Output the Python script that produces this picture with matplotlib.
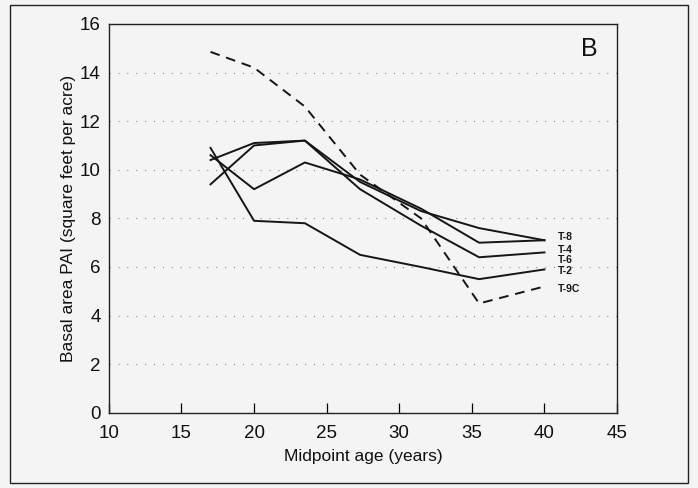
import matplotlib.pyplot as plt
from matplotlib.patches import Rectangle

plt.rcParams['font.family'] = ['Liberation Sans', 'DejaVu Sans']

# midpoint ages of the measurement periods
age = [17, 20, 23.5, 27.3, 31.5, 35.5, 40]

# basal area PAI per stand
t8 = [10.4, 11.1, 11.2, 9.5, 8.3, 7.6, 7.1]
t4 = [10.6, 9.2, 10.3, 9.6, 8.4, 7.0, 7.1]
t6 = [9.4, 11.0, 11.2, 9.2, 7.7, 6.4, 6.6]
t2 = [10.9, 7.9, 7.8, 6.5, 6.0, 5.5, 5.9]
t9c = [14.85, 14.2, 12.6, 9.8, 8.0, 4.5, 5.2]

labels = ['T-8', 'T-4', 'T-6', 'T-2', 'T-9C']
label_y = [7.25, 6.7, 6.3, 5.85, 5.1]

bg = '#f4f4f4'
fig = plt.figure(figsize=(6.98, 4.88), dpi=100, facecolor=bg)
ax = fig.add_axes([0.156, 0.154, 0.728, 0.797], facecolor=bg)

# outer frame around the whole figure
fig.patches.append(Rectangle((10 / 698, 5 / 488), 678 / 698, 478 / 488,
                             transform=fig.transFigure, fill=False,
                             edgecolor='#222222', linewidth=1.0))

# faint dotted grid, like the scanned original
for yv in range(2, 16, 2):
    ax.axhline(yv, color='#888888', linewidth=0.8,
               linestyle=(0, (1, 7)), zorder=0)

lw = 1.4
for series in [t8, t4, t6, t2]:
    ax.plot(age, series, color='#151515', linewidth=lw)
ax.plot(age, t9c, color='#151515', linewidth=lw, linestyle=(0, (5, 3.5)))

for lab, yv in zip(labels, label_y):
    ax.text(40.9, yv, lab, fontsize=7.5, fontweight='bold',
            va='center', ha='left', color='#151515')

ax.text(0.945, 0.935, 'B', transform=ax.transAxes, fontsize=18,
        ha='center', va='center', color='#111111')

ax.set_xlim(10, 45)
ax.set_ylim(0, 16)
ax.set_xticks(range(10, 46, 5))
ax.set_yticks(range(0, 17, 2))
ax.tick_params(axis='x', direction='in', length=7, width=0.9,
               labelsize=13.5, pad=9, labelcolor='#111111')
ax.tick_params(axis='y', length=0, labelsize=13.5, pad=6,
               labelcolor='#111111')
for sp in ax.spines.values():
    sp.set_linewidth(1.0)
    sp.set_color('#222222')

ax.set_xlabel('Midpoint age (years)', fontsize=12.5, labelpad=5,
              color='#111111')
ax.set_ylabel('Basal area PAI (square feet per acre)', fontsize=12.5,
              labelpad=3, color='#111111')

fig.savefig('out.png', dpi=100, facecolor=bg)
